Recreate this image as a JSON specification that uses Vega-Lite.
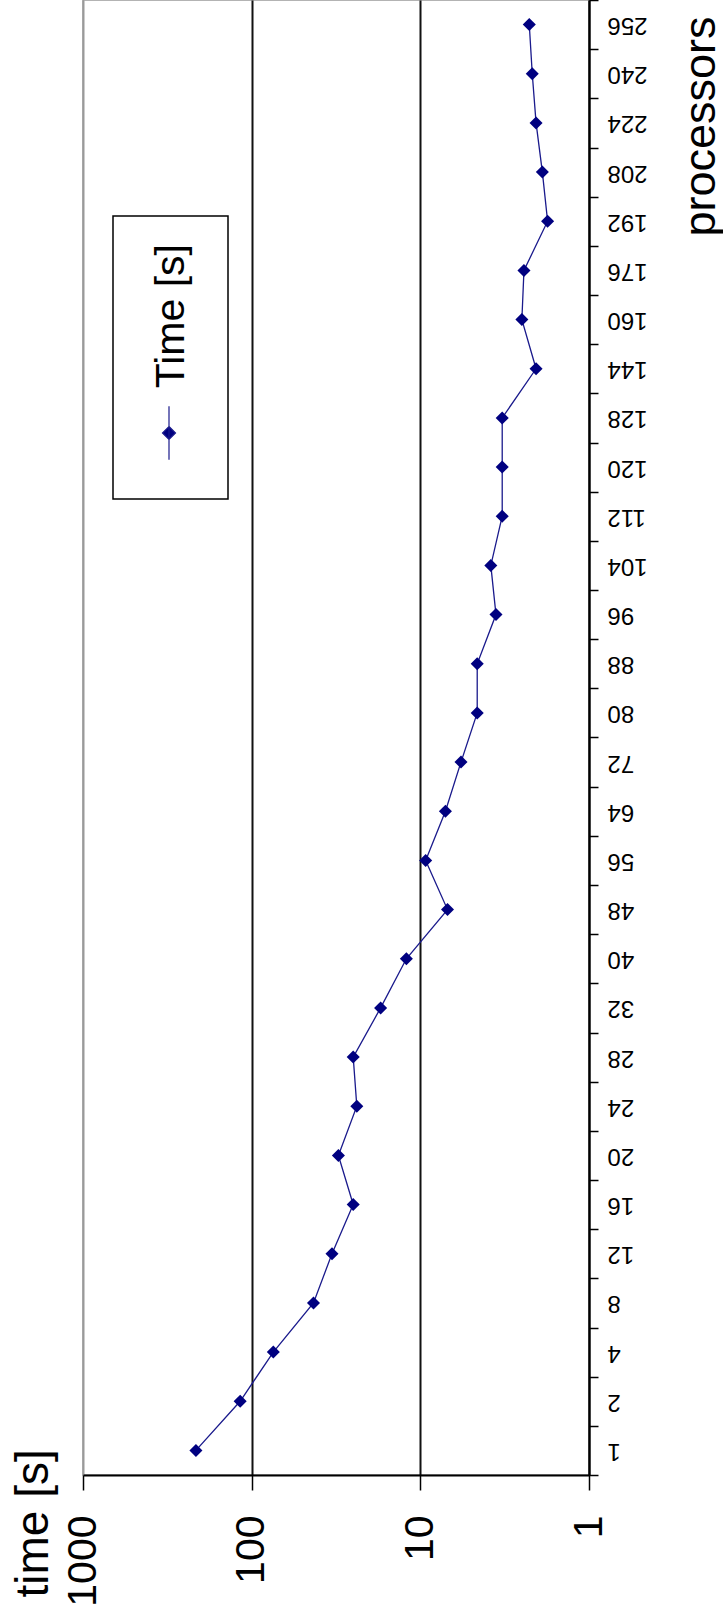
{
  "$schema": "https://vega.github.io/schema/vega-lite/v6.json",
  "width": 506,
  "height": 1475,
  "autosize": {"type": "none"},
  "padding": {"left": 83, "top": 0, "right": 134, "bottom": 144},
  "background": "white",
  "config": {
    "view": {"stroke": "#9a9a9a", "strokeWidth": 1.5},
    "font": "Liberation Sans"
  },
  "data": {
    "values": [
      {"processors": 1, "time": 214},
      {"processors": 2, "time": 117},
      {"processors": 4, "time": 74.4},
      {"processors": 8, "time": 43},
      {"processors": 12, "time": 33.4},
      {"processors": 16, "time": 25},
      {"processors": 20, "time": 30.6},
      {"processors": 24, "time": 23.8},
      {"processors": 28, "time": 25},
      {"processors": 32, "time": 17.2},
      {"processors": 40, "time": 12.1},
      {"processors": 48, "time": 6.9},
      {"processors": 56, "time": 9.3},
      {"processors": 64, "time": 7.1},
      {"processors": 72, "time": 5.74},
      {"processors": 80, "time": 4.6},
      {"processors": 88, "time": 4.6},
      {"processors": 96, "time": 3.56},
      {"processors": 104, "time": 3.82},
      {"processors": 112, "time": 3.27},
      {"processors": 120, "time": 3.27},
      {"processors": 128, "time": 3.27},
      {"processors": 144, "time": 2.06},
      {"processors": 160, "time": 2.5},
      {"processors": 176, "time": 2.43},
      {"processors": 192, "time": 1.76},
      {"processors": 208, "time": 1.89},
      {"processors": 224, "time": 2.06},
      {"processors": 240, "time": 2.17},
      {"processors": 256, "time": 2.26}
    ]
  },
  "encoding": {
    "y": {
      "field": "processors",
      "type": "ordinal",
      "sort": "descending",
      "scale": {"type": "band", "paddingInner": 0, "paddingOuter": 0},
      "axis": {
        "orient": "right",
        "tickBand": "extent",
        "grid": false,
        "domainColor": "black",
        "domainWidth": 2,
        "tickColor": "black",
        "tickWidth": 1.5,
        "tickSize": 9,
        "labelAngle": 180,
        "labelAlign": "right",
        "labelBaseline": "middle",
        "labelFontSize": 24,
        "labelPadding": 9,
        "labelColor": "black",
        "labelOverlap": false,
        "title": "processors",
        "titleAngle": 270,
        "titleAlign": "center",
        "titleBaseline": "middle",
        "titleX": 111,
        "titleY": 126,
        "titleFontSize": 45,
        "titleFontWeight": "normal",
        "titleColor": "black"
      }
    },
    "x": {
      "field": "time",
      "type": "quantitative",
      "scale": {"type": "log", "domain": [1, 1000], "reverse": true},
      "axis": {
        "values": [1, 10, 100, 1000],
        "format": "d",
        "grid": true,
        "gridColor": {"condition": {"test": "datum.value == 1000", "value": "#9a9a9a"}, "value": "#111111"},
        "gridWidth": 2,
        "domainColor": "black",
        "domainWidth": 2,
        "tickColor": "black",
        "tickWidth": 1.5,
        "tickSize": 15,
        "labelAngle": 270,
        "labelFontSize": 41,
        "labelPadding": 25,
        "labelColor": "black",
        "labelFlush": false,
        "labelOverlap": false,
        "title": "time [s]",
        "titleAngle": 270,
        "titleAlign": "left",
        "titleBaseline": "middle",
        "titleX": -50,
        "titleY": 122,
        "titleFontSize": 46,
        "titleFontWeight": "normal",
        "titleColor": "black"
      }
    }
  },
  "layer": [
    {
      "mark": {"type": "line", "strokeWidth": 1.3},
      "encoding": {
        "order": {"field": "processors", "type": "quantitative"},
        "color": {
          "datum": "Time [s]",
          "scale": {"range": ["#1a1a8c"]},
          "legend": {
            "orient": "none",
            "legendX": 30,
            "legendY": 216,
            "title": null,
            "labelFontSize": 41,
            "labelColor": "black",
            "labelFont": "Liberation Sans",
            "symbolType": "M0,-4.1V4.1M0,-1L1,0L0,1L-1,0Z",
            "symbolSize": 169,
            "symbolStrokeWidth": 1.2,
            "strokeColor": "black",
            "fillColor": "white",
            "padding": 36,
            "encode": {
              "labels": {"update": {"angle": {"value": -90}, "align": {"value": "right"}, "baseline": {"value": "middle"}, "x": {"value": 23}, "y": {"value": -8}}},
              "symbols": {"update": {"x": {"value": 20}, "y": {"value": 181}, "fill": {"value": "#000080"}, "stroke": {"value": "#000080"}, "strokeWidth": {"value": 1.2}}},
              "legend": {"update": {"strokeWidth": {"value": 1.5}}}
            }
          }
        }
      }
    },
    {
      "mark": {"type": "point", "shape": "diamond", "filled": true, "size": 170, "color": "#000080", "opacity": 1}
    }
  ]
}
